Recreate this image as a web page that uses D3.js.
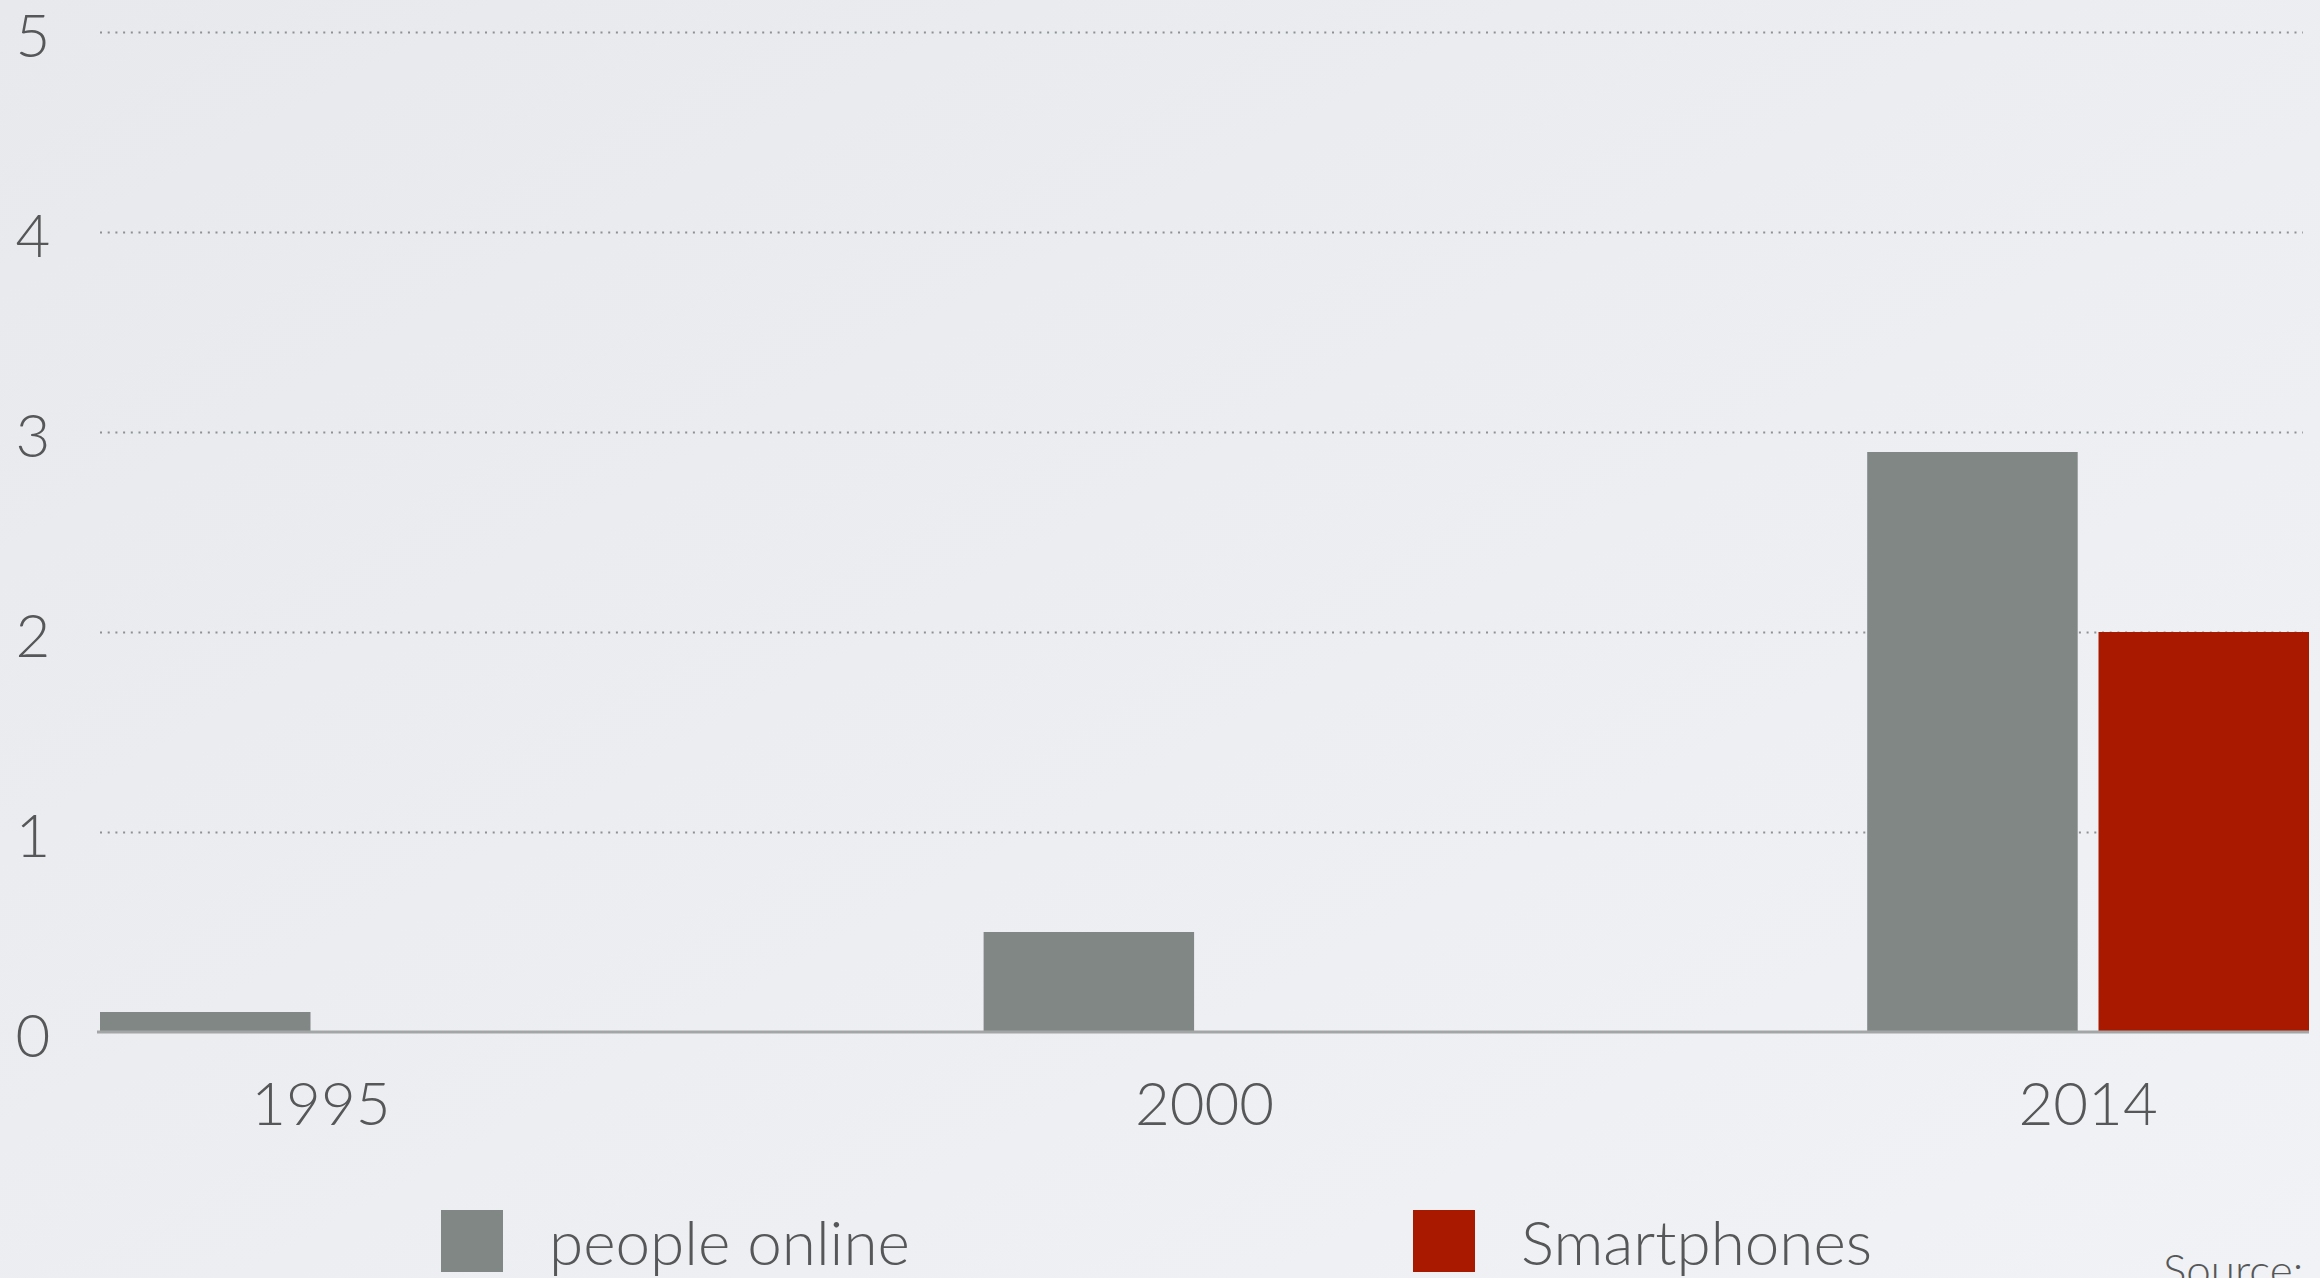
<!DOCTYPE html>
<html>
<head>
<meta charset="utf-8">
<script src="https://cdn.jsdelivr.net/npm/d3@7"></script>
<style>
    body { margin: 0; background: #eceef1; }
    svg { display: block; font-family: "Lato Light", "Lato", "Open Sans", sans-serif; font-weight: 300; }
</style>
</head>
<body>
<div id="chart"></div>
<script>
const years = ["1995", "2000", "2014"];
const seriesNames = ["people online", "Smartphones"];
const peopleOnline = [0.1, 0.5, 2.9];
const smartphones = [0, 0, 2.0];
const yTicks = [0, 1, 2, 3, 4, 5];
const sourceText = "Source:";

const fontStack = '"Lato Light", "Lato", sans-serif';

function drawChart() {
    const width = 2320,
        height = 1278;
    const margin = {top: 32, left: 100, right: 11, bottom: 246};
    const plotW = width - margin.left - margin.right,
        plotH = height - margin.top - margin.bottom;

    const svg = d3.select("#chart")
        .append("svg")
        .attr("width", width)
        .attr("height", height);

    // soft slide-like background
    const grad = svg.append("defs").append("linearGradient")
        .attr("id", "bg").attr("x1", "0").attr("y1", "0").attr("x2", "1").attr("y2", "1");
    grad.append("stop").attr("offset", "0%").attr("stop-color", "#e7e9ec");
    grad.append("stop").attr("offset", "100%").attr("stop-color", "#f1f2f5");
    svg.append("rect").attr("width", width).attr("height", height).attr("fill", "url(#bg)");

    const g = svg.append("g")
        .attr("transform", `translate(${margin.left},${margin.top})`);

    const data = years.map((yr, i) => ({
        year: yr,
        values: [
            {key: seriesNames[0], value: peopleOnline[i]},
            {key: seriesNames[1], value: smartphones[i]}
        ]
    }));

    const x0 = d3.scaleBand()
        .domain(years)
        .range([0, plotW])
        .paddingInner(0.5)
        .paddingOuter(0);

    const x1 = d3.scaleBand()
        .domain(seriesNames)
        .range([0, x0.bandwidth()])
        .paddingInner(0.09);

    const y = d3.scaleLinear()
        .domain([0, 5])
        .range([plotH, 0]);

    const color = d3.scaleOrdinal()
        .domain(seriesNames)
        .range(["#818785", "#a81900"]);

    // y axis with dotted gridlines
    const yAxis = g.append("g")
        .call(d3.axisLeft(y).tickValues(yTicks).tickSize(-(plotW - 6)).tickFormat(d3.format("d")));
    yAxis.select(".domain").remove();
    yAxis.selectAll(".tick line")
        .attr("stroke", "#8d9191")
        .attr("stroke-width", 2)
        .attr("stroke-dasharray", "2,5.7")
        .attr("opacity", d => d === 0 ? 0 : 1);
    yAxis.selectAll(".tick text")
        .attr("x", -67)
        .attr("dy", "0.4em")
        .attr("text-anchor", "middle")
        .attr("fill", "#555758")
        .style("font-size", "60px")
        .style("font-family", fontStack)
        .style("font-weight", 300);

    // bars
    g.selectAll(".group")
        .data(data)
        .join("g")
        .attr("class", "group")
        .attr("transform", d => `translate(${x0(d.year)},0)`)
        .selectAll("rect")
        .data(d => d.values)
        .join("rect")
        .attr("x", d => x1(d.key))
        .attr("y", d => y(d.value))
        .attr("width", x1.bandwidth())
        .attr("height", d => plotH - y(d.value))
        .attr("fill", d => color(d.key));

    // x axis (baseline + year labels)
    const xAxis = g.append("g")
        .attr("transform", `translate(0,${plotH})`)
        .call(d3.axisBottom(x0).tickSize(0).tickSizeOuter(0));
    xAxis.select(".domain")
        .attr("stroke", "#a3a6a6")
        .attr("stroke-width", 3)
        .attr("d", `M-3,0H${plotW}`);
    xAxis.selectAll(".tick text")
        .attr("y", 93)
        .attr("dy", 0)
        .attr("fill", "#555758")
        .style("font-size", "60px")
        .style("font-family", fontStack)
        .style("font-weight", 300);

    // legend
    const legendX = [441, 1413];
    const legend = svg.selectAll(".legend")
        .data(seriesNames)
        .join("g")
        .attr("class", "legend")
        .attr("transform", (d, i) => `translate(${legendX[i]},1210)`);
    legend.append("rect")
        .attr("width", 62)
        .attr("height", 62)
        .attr("fill", d => color(d));
    legend.append("text")
        .attr("x", 108)
        .attr("y", 55)
        .attr("fill", "#555758")
        .style("font-size", "62px")
        .text(d => d);

    // source note, sits at the slide's bottom edge
    svg.append("text")
        .attr("x", 2163)
        .attr("y", 1286)
        .attr("fill", "#555758")
        .style("font-size", "44px")
        .text(sourceText);
}

drawChart();
</script>
</body>
</html>
